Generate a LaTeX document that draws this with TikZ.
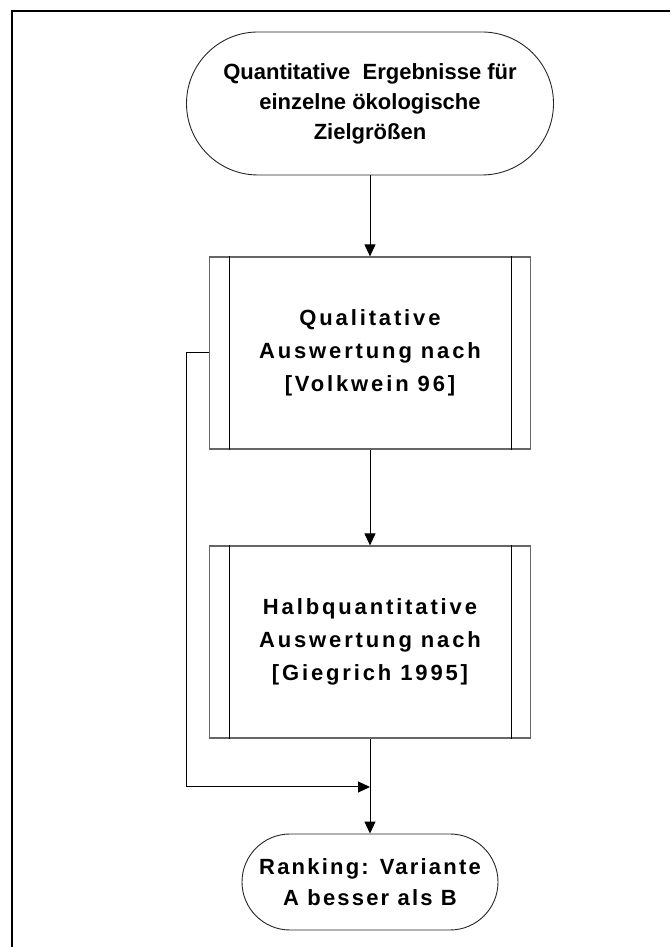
\documentclass[tikz,border=0pt]{standalone}
\usepackage{fontspec}
\setmainfont{Liberation Sans}
\newfontfamily\plainbold{Liberation Sans}
\newfontfamily\widebold[LetterSpace=13]{Liberation Sans}
\newfontfamily\midbold[LetterSpace=10]{Liberation Sans}
\usetikzlibrary{arrows.meta}

\begin{document}
\begin{tikzpicture}[x=1pt,y=1pt,
  conn/.style={draw=black, line width=1pt},
  tip/.style={-{Triangle[length=12pt,width=11pt]}},
  terminal/.style={draw=black!85, line width=0.9pt, align=center, text=black},
  procbox/.style={draw=black!60, line width=1.2pt, align=center, text=black,
    minimum width=321pt, minimum height=192pt,
    font=\widebold\bfseries\fontsize{22}{33}\selectfont},
  sideline/.style={draw=black, line width=1pt}]

\useasboundingbox (0,0) rectangle (670,947);

% page frame (only top and left edges fall inside the page)
\draw[line width=2pt] (12,0) -- (12,936) -- (670,936);

% start terminal
\node[terminal, rounded corners=71.5pt, minimum width=367pt, minimum height=143pt,
      font=\plainbold\bfseries\fontsize{22}{30}\selectfont]
  (start) at (370,843.5) {Quantitative\ \ Ergebnisse für\\einzelne ökologische\\Zielgrößen};

% predefined processes
\node[procbox] (qual) at (370,594) {Qualitative\\Auswertung nach\\{}[Volkwein 96]};
\node[procbox] (half) at (370,305) {Halbquantitative\\Auswertung nach\\{}[Giegrich 1995]};

\foreach \n in {qual,half}{
  \draw[sideline] ([xshift=21pt]\n.north west) -- ([xshift=21pt]\n.south west);
  \draw[sideline] ([xshift=-20pt]\n.north east) -- ([xshift=-20pt]\n.south east);
}

% end terminal
\node[terminal, rounded corners=48pt, minimum width=256pt, minimum height=96pt,
      font=\midbold\bfseries\fontsize{22}{31.5}\selectfont]
  (rank) at (370,65) {Ranking: Variante\\A besser als B};

% connectors
\coordinate (join) at (370,160);
\coordinate (bend) at (186,594);
\draw[conn,tip] (start.south) -- (qual.north);
\draw[conn,tip] (qual.south) -- (half.north);
\draw[conn] (half.south) -- (join);
\draw[conn,tip] (join) -- (rank.north);
\draw[conn,tip] (qual.west) -- (bend) |- (join);
\end{tikzpicture}
\end{document}
